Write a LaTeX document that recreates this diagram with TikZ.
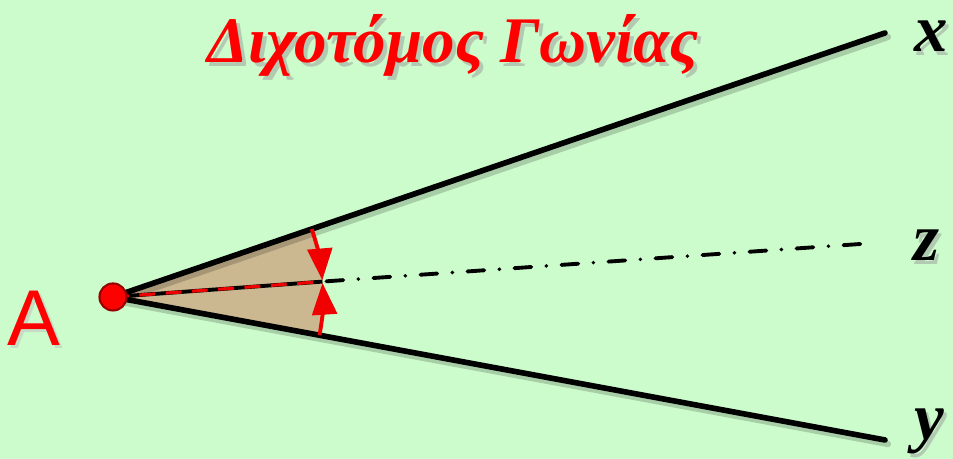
\documentclass[tikz,border=0pt]{standalone}
\usepackage{fontspec}
\setmainfont{Liberation Serif}
\newfontfamily\sansA{Liberation Sans}
\usetikzlibrary{arrows.meta,calc}
\definecolor{bg}{RGB}{204,252,204}
\definecolor{sector}{RGB}{203,184,145}
\definecolor{dotred}{RGB}{240,0,0}
\tikzset{
  ray/.style={line width=1.6pt, line cap=round, black},
  rayshadow/.style={line width=1.8pt, line cap=round, black, opacity=0.18},
  bisect/.style={line width=1.1pt, black, line cap=round, dash pattern=on 4.8pt off 4.3pt on 0pt off 4.3pt},
  angarc/.style={line width=1.1pt, dotred, -{Triangle[length=9pt,width=7pt]}},
  lbl/.style={font=\fontsize{19}{22}\selectfont\bfseries\itshape, inner sep=0pt},
  ttl/.style={font=\fontsize{18.5}{22}\selectfont\bfseries\itshape, inner sep=0pt},
  alab/.style={font=\sansA\fontsize{22.5}{26}\selectfont, inner sep=0pt},
}
\begin{document}
\begin{tikzpicture}[x=0.01cm,y=0.01cm]
\fill[bg] (0,0) rectangle (953,459);
\useasboundingbox (0,0) rectangle (953,459);
\coordinate (A) at (113,162);
\coordinate (X) at (885,426);
\coordinate (Y) at (885,19);
\coordinate (Z) at (875,216);
% sector
\fill[sector] (A) -- ($(A)+(18.88:210)$) arc[start angle=18.88, end angle=-10.49, radius=2.1cm] -- cycle;
% shadows
\draw[rayshadow] ($(A)+(3,-4)$) -- ($(X)+(3,-4)$);
\draw[rayshadow] ($(A)+(3,-4)$) -- ($(Y)+(3,-4)$);
% rays
\draw[ray] (A) -- (X);
\draw[ray] (A) -- (Y);
% bisector
\draw[line width=1.1pt] (A) -- ($(A)+(4.2:210)$);
\draw[line width=0.9pt, dotred, dash pattern=on 4.5pt off 3pt] (A) -- ($(A)+(4.2:205)$);
\draw[bisect] ($(A)+(4.2:214)$) -- (Z);
% angle arcs
\draw[angarc] ($(A)+(18.88:210)$) arc[start angle=18.88, end angle=4.6, radius=2.1cm];
\draw[angarc] ($(A)+(-10.49:210)$) arc[start angle=-10.49, end angle=3.8, radius=2.1cm];
% point A
\node[circle, fill=red, draw={rgb,255:red,150;green,0;blue,0}, line width=0.6pt, minimum size=0.27cm, inner sep=0pt] (Apt) at (A) {};
\node[alab, text=black!25, opacity=0.5] at (37,138) {A};
\node[alab, text=red] (Alab) at (34,141) {A};
% title
\node[ttl, text=black!40, opacity=0.5] at (457,410) {Διχοτόμος Γωνίας};
\node[ttl, text=red] (title) at (453,414) {Διχοτόμος Γωνίας};
% labels
\node[lbl, text=black!40, opacity=0.5] at (934,419) {x};
\node[lbl] (xl) at (931,423) {x};
\node[lbl, text=black!40, opacity=0.5] at (930,210) {z};
\node[lbl] (zl) at (927,214) {z};
\node[lbl, text=black!40, opacity=0.5] at (932,24) {y};
\node[lbl] (yl) at (929,28) {y};
\end{tikzpicture}
\end{document}
